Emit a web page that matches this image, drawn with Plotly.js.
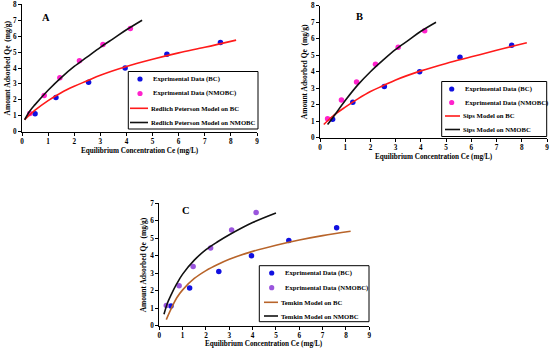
<!DOCTYPE html>
<html>
<head>
<meta charset="utf-8">
<script src="https://cdn.plot.ly/plotly-3.0.1.min.js"></script>
<style>html,body{margin:0;padding:0;background:#fff}#chart{width:550px;height:351px}</style>
</head>
<body>
<div id="chart"></div>
<script>
// Experimental data
const bcCe = [0.5, 1.3, 2.55, 3.95, 5.55, 7.6];
const bcQe = [1.12, 2.15, 3.1, 4.0, 4.87, 5.6];
const nmCe = [0.3, 0.85, 1.45, 2.2, 3.1, 4.15];
const nmQe = [1.15, 2.28, 3.38, 4.45, 5.48, 6.48];

// Model curves
const rpBcX = [0.1, 0.5, 1, 1.5, 2, 2.5, 3, 4, 5, 6, 7, 8.2];
const rpBcY = [0.75, 1.35, 1.95, 2.45, 2.85, 3.2, 3.55, 4.1, 4.55, 4.95, 5.3, 5.75];
const rpNmX = [0.1, 0.3, 0.5, 1, 1.5, 2, 2.5, 3, 3.5, 4, 4.6];
const rpNmY = [0.75, 1.3, 1.7, 2.6, 3.4, 4.1, 4.7, 5.3, 5.85, 6.4, 7.0];

const sipsBcX = [0.15, 0.5, 1, 1.5, 2, 2.5, 3, 4, 5, 6, 7, 8.2];
const sipsBcY = [0.8, 1.3, 1.85, 2.35, 2.8, 3.15, 3.5, 4.05, 4.5, 4.9, 5.3, 5.75];
const sipsNmX = [0.3, 0.5, 1, 1.5, 2, 2.5, 3, 3.5, 4, 4.6];
const sipsNmY = [0.8, 1.2, 2.25, 3.2, 4.0, 4.7, 5.35, 5.9, 6.45, 7.0];

const temBcX = [0.3, 0.5, 0.75, 1, 1.5, 2, 2.5, 3, 4, 5, 6, 7, 8.2];
const temBcY = [0.35, 0.95, 1.6, 2.05, 2.7, 3.15, 3.5, 3.8, 4.25, 4.6, 4.9, 5.15, 5.4];
const temNmX = [0.2, 0.35, 0.5, 0.75, 1, 1.5, 2, 2.5, 3, 4, 5];
const temNmY = [0.65, 1.3, 1.75, 2.4, 2.95, 3.75, 4.35, 4.8, 5.2, 5.9, 6.45];

const panelLabels = ["A", "B", "C"];
const expNames = ["Exprimental Data (BC)", "Exprimental Data (NMOBC)"];
const modelNames = [
  ["Redlich Peterson Model on BC", "Redlich Peterson Model on NMOBC"],
  ["Sips Model on BC", "Sips Model on NMOBC"],
  ["Temkin Model on BC", "Temkin Model on NMOBC"]
];
const xTitle = "Equilibrium Concentration Ce (mg/L)";
const yTitle = "Amount Adsorbed Qe  (mg/g)";

const serif = "Liberation Serif";
const W = 550, H = 351;
const BLUE = "#1010e0";

const panels = [
  {xa: "x", ya: "y", nmColor: "#ff22cc", bcLine: "#ff1a1a", curves: [rpBcX, rpBcY, rpNmX, rpNmY]},
  {xa: "x2", ya: "y2", nmColor: "#ff22cc", bcLine: "#ff1a1a", curves: [sipsBcX, sipsBcY, sipsNmX, sipsNmY]},
  {xa: "x3", ya: "y3", nmColor: "#9a55dd", bcLine: "#b8642a", curves: [temBcX, temBcY, temNmX, temNmY]}
];

const traces = [];
panels.forEach((p, i) => {
  traces.push({x: bcCe, y: bcQe, xaxis: p.xa, yaxis: p.ya, name: expNames[0],
    mode: "markers", type: "scatter", marker: {color: BLUE, size: 5.5}});
  traces.push({x: nmCe, y: nmQe, xaxis: p.xa, yaxis: p.ya, name: expNames[1],
    mode: "markers", type: "scatter", marker: {color: p.nmColor, size: 5.5}});
  traces.push({x: p.curves[0], y: p.curves[1], xaxis: p.xa, yaxis: p.ya, name: modelNames[i][0],
    mode: "lines", type: "scatter", line: {color: p.bcLine, width: 1.6, shape: "spline"}});
  traces.push({x: p.curves[2], y: p.curves[3], xaxis: p.xa, yaxis: p.ya, name: modelNames[i][1],
    mode: "lines", type: "scatter", line: {color: "#111111", width: 1.6, shape: "spline"}});
});

// Plot areas in pixels [x0, x1, yTop, yBottom]
const boxes = [[22, 257, 4.3, 131.7], [320, 547, 5.7, 137.7], [159.3, 369.3, 203.3, 325.7]];
const yMax = [8, 8, 7];
const xTitleGap = [19, 19, 18];
const labelPos = [[0.10, 0.90], [0.176, 0.917], [0.126, 0.945]];
const legBoxes = [
  {l: 128.3, r: 258, t: 71.5, b: 129, mx: 140, tx: 150.7, lx0: 130, lx1: 148, rows: [79, 93.5, 108.3, 122.5]},
  {l: 441.7, r: 546.7, t: 81.5, b: 136.5, mx: 451.7, tx: 462.5, lx0: 445, lx1: 460, rows: [89, 102.5, 116, 129.5]},
  {l: 259.3, r: 369, t: 265.7, b: 321.7, mx: 271.7, tx: 283, lx0: 264, lx1: 278, rows: [273, 287.7, 302.3, 316]}
];
const TICK = 7.2, TITLE = 7.2, LEG = 6.7;

function axis(dom, range, dtick) {
  return {domain: dom, range: range, dtick: dtick, showgrid: false, zeroline: false,
    showline: true, linecolor: "#000", linewidth: 1, ticks: "outside", ticklen: 3, tickcolor: "#000",
    tickfont: {family: serif, size: TICK, color: "#000", weight: "bold"}, fixedrange: true};
}
const px = v => v / W, py = v => 1 - v / H;
const layout = {width: W, height: H, margin: {l: 0, r: 0, t: 0, b: 0}, paper_bgcolor: "#fff", plot_bgcolor: "#fff",
  showlegend: false, annotations: [], shapes: []};
boxes.forEach((b, i) => {
  const s = i === 0 ? "" : String(i + 1);
  layout["xaxis" + s] = Object.assign(axis([b[0] / W, b[1] / W], [0, 9], 1), {anchor: "y" + s});
  layout["yaxis" + s] = Object.assign(axis([1 - b[3] / H, 1 - b[2] / H], [0, yMax[i]], 1), {anchor: "x" + s});
  layout.annotations.push({xref: "paper", yref: "paper", x: (b[0] + b[1]) / 2 / W, y: py(b[3] + xTitleGap[i]),
    text: "<b>" + xTitle + "</b>", showarrow: false, xanchor: "center", yanchor: "middle",
    font: {family: serif, size: TITLE, color: "#000"}});
  layout.annotations.push({xref: "paper", yref: "paper", x: (b[0] - 15.5) / W, y: 1 - (b[2] + b[3]) / 2 / H,
    text: "<b>" + yTitle + "</b>", showarrow: false, textangle: -90, xanchor: "center", yanchor: "middle",
    font: {family: serif, size: TITLE + 0.3, color: "#000"}});
  layout.annotations.push({xref: "x" + s + " domain", yref: "y" + s + " domain", x: labelPos[i][0], y: labelPos[i][1],
    text: "<b>" + panelLabels[i] + "</b>", showarrow: false, xanchor: "center", yanchor: "middle",
    font: {family: serif, size: 10.5, color: "#000"}});

  // custom legend (Plotly's own legend rows are too tall for this layout)
  const lg = legBoxes[i];
  const p = panels[i];
  layout.shapes.push({type: "rect", xref: "paper", yref: "paper", x0: px(lg.l), x1: px(lg.r), y0: py(lg.b), y1: py(lg.t),
    line: {color: "#000", width: 1}, fillcolor: "#fff", layer: "above"});
  const names = [expNames[0], expNames[1], modelNames[i][0], modelNames[i][1]];
  const colors = [BLUE, p.nmColor, p.bcLine, "#111111"];
  names.forEach((n, k) => {
    const y = lg.rows[k];
    if (k < 2) {
      const r = 2.6;
      layout.shapes.push({type: "circle", xref: "paper", yref: "paper", x0: px(lg.mx - r), x1: px(lg.mx + r),
        y0: py(y + r), y1: py(y - r), fillcolor: colors[k], line: {width: 0}, layer: "above"});
      layout.annotations.push({xref: "paper", yref: "paper", x: px(lg.tx), y: py(y), xanchor: "left", yanchor: "middle",
        text: "<b>" + n + "</b>", showarrow: false, font: {family: serif, size: LEG, color: "#000"}});
    } else {
      layout.shapes.push({type: "line", xref: "paper", yref: "paper", x0: px(lg.lx0), x1: px(lg.lx1),
        y0: py(y), y1: py(y), line: {color: colors[k], width: 1.6}, layer: "above"});
      layout.annotations.push({xref: "paper", yref: "paper", x: px(lg.lx1 + 0.5), y: py(y), xanchor: "left", yanchor: "middle",
        text: "<b>" + n + "</b>", showarrow: false, font: {family: serif, size: LEG, color: "#000"}});
    }
  });
});
Plotly.newPlot("chart", traces, layout, {displayModeBar: false, staticPlot: true});
</script>
</body>
</html>
